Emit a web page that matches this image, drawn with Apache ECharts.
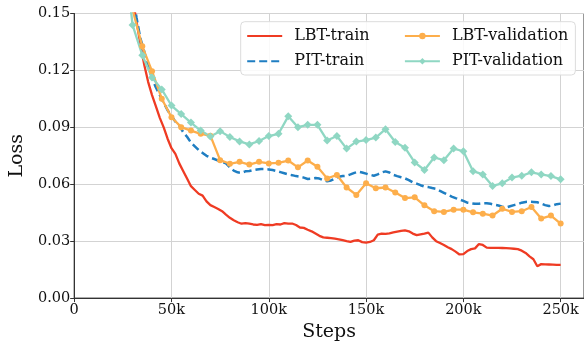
<!DOCTYPE html>
<html>
<head>
<meta charset="utf-8">
<script src="https://cdn.jsdelivr.net/npm/echarts@6/dist/echarts.min.js"></script>
<style>
html,body{margin:0;padding:0;background:#fff;}
#chart{width:584px;height:347px;}
</style>
</head>
<body>
<div id="chart"></div>
<script>
// Training steps (k)
const trainSteps = [30,32,34,36,38,40,42,44,46,48,50,52,54,56,58,60,62,64,66,68,70,72,74,76,78,80,82,84,86,88,90,92,94,96,98,100,102,104,106,108,110,112,114,116,118,120,122,124,126,128,130,132,134,136,138,140,142,144,146,148,150,152,154,156,158,160,162,164,166,168,170,172,174,176,178,180,182,184,186,188,190,192,194,196,198,200,202,204,206,208,210,212,214,216,218,220,222,224,226,228,230,232,234,236,238,240,242,244,246,248,250];
const lbtTrain = [0.158,0.146,0.134,0.123,0.114,0.107,0.101,0.095,0.090,0.084,0.079,0.076,0.071,0.067,0.063,0.059,0.057,0.055,0.054,0.051,0.049,0.048,0.047,0.0458,0.044,0.0423,0.041,0.0400,0.0392,0.0395,0.0392,0.0388,0.0386,0.0390,0.0385,0.0386,0.0385,0.0390,0.0388,0.0395,0.0392,0.0393,0.0385,0.0372,0.0370,0.0360,0.0352,0.0340,0.0328,0.0320,0.0318,0.0316,0.0313,0.0310,0.0305,0.0300,0.0296,0.0303,0.0305,0.0295,0.0292,0.0296,0.0305,0.0335,0.0340,0.0338,0.0341,0.0346,0.0350,0.0354,0.0357,0.0352,0.0340,0.0332,0.0336,0.0340,0.0345,0.0320,0.0300,0.0290,0.0280,0.0268,0.0258,0.0245,0.0230,0.0232,0.0248,0.0258,0.0262,0.0285,0.0280,0.0266,0.0265,0.0265,0.0265,0.0264,0.0263,0.0262,0.0260,0.0258,0.0250,0.0238,0.0220,0.0205,0.0168,0.0179,0.0178,0.0177,0.0176,0.0175,0.0175];
const pitTrain = [0.162,0.148,0.137,0.130,0.122,0.116,0.111,0.107,0.103,0.099,0.096,0.093,0.091,0.0875,0.085,0.082,0.080,0.078,0.0765,0.075,0.074,0.0733,0.0725,0.0718,0.071,0.0690,0.0672,0.0663,0.0660,0.0668,0.0670,0.0675,0.0678,0.0680,0.0680,0.0678,0.0675,0.0670,0.0664,0.0658,0.0652,0.0648,0.0643,0.0640,0.0635,0.0628,0.0630,0.0633,0.0630,0.0622,0.0616,0.0620,0.0630,0.0640,0.0643,0.0645,0.0652,0.0660,0.0666,0.0662,0.0656,0.0650,0.0645,0.0652,0.0662,0.0668,0.0662,0.0650,0.0643,0.0637,0.0631,0.0622,0.0610,0.0603,0.0595,0.0588,0.0585,0.0580,0.0576,0.0565,0.0555,0.0545,0.0535,0.0527,0.0520,0.0512,0.0503,0.0500,0.0497,0.0497,0.0500,0.0500,0.0497,0.0492,0.0488,0.0482,0.0478,0.0484,0.0490,0.0495,0.0503,0.0507,0.0508,0.0507,0.0505,0.0498,0.0490,0.0485,0.0488,0.0495,0.0498];
// Validation steps (k)
const valSteps = [25,30,35,40,45,50,55,60,65,70,75,80,85,90,95,100,105,110,115,120,125,130,135,140,145,150,155,160,165,170,175,180,185,190,195,200,205,210,215,220,225,230,235,240,245,250];
const lbtVal = [0.200,0.152,0.1327,0.1196,0.1051,0.0953,0.0901,0.0883,0.0866,0.0856,0.0727,0.0708,0.0718,0.0704,0.0718,0.0710,0.0713,0.0725,0.0689,0.0725,0.0692,0.0631,0.0649,0.0583,0.0544,0.0605,0.0579,0.0583,0.0557,0.0527,0.0531,0.0489,0.0458,0.0454,0.0466,0.0466,0.0452,0.0445,0.0435,0.0471,0.0454,0.0458,0.0480,0.0419,0.0435,0.0393];
const pitVal = [0.190,0.144,0.128,0.1163,0.110,0.1015,0.097,0.0925,0.0883,0.0852,0.0880,0.0849,0.0826,0.0810,0.0828,0.0854,0.0866,0.0958,0.0901,0.0913,0.0913,0.0831,0.0854,0.0788,0.0825,0.0833,0.0846,0.0890,0.0823,0.0793,0.0715,0.0675,0.0741,0.0727,0.0788,0.0774,0.0669,0.0652,0.0591,0.0605,0.0635,0.0645,0.0663,0.0652,0.0643,0.0626];
const yTicks = [0, 0.03, 0.06, 0.09, 0.12, 0.15];

const FONT = 'DejaVu Serif';
function pairs(xs, ys){ return xs.map((x,i)=>[x, ys[i]]); }
const hiddenSym = {opacity:0, color:'rgba(0,0,0,0)', borderWidth:0};

const chart = echarts.init(document.getElementById('chart'), null, {renderer:'canvas'});
chart.setOption({
  animation:false,
  backgroundColor:'#fff',
  grid:{left:73.3, top:13.5, width:512.9, height:287.5, show:true, borderColor:'#333', borderWidth:1, backgroundColor:'transparent'},
  xAxis:{
    type:'value', min:0, max:262, interval:50,
    name:'Steps', nameLocation:'middle', nameGap:22,
    nameTextStyle:{fontFamily:FONT, fontSize:19, color:'#111'},
    axisLine:{show:true, lineStyle:{color:'#333', width:1}},
    axisTick:{show:true, length:4, lineStyle:{color:'#333'}},
    axisLabel:{fontFamily:FONT, fontSize:14.5, color:'#111', margin:5, showMaxLabel:false,
      formatter:v=> v===0 ? '0' : v+'k'},
    splitLine:{show:true, lineStyle:{color:'#d3d3d3', width:1}}
  },
  yAxis:{
    type:'value', min:yTicks[0], max:yTicks[yTicks.length-1], interval:0.03,
    name:'Loss', nameLocation:'middle', nameGap:45,
    nameTextStyle:{fontFamily:FONT, fontSize:19, color:'#111'},
    axisLine:{show:true, lineStyle:{color:'#333', width:1}},
    axisTick:{show:true, length:4, lineStyle:{color:'#333'}},
    axisLabel:{fontFamily:FONT, fontSize:14.5, color:'#111', margin:4, formatter:v=>v.toFixed(2)},
    splitLine:{show:true, lineStyle:{color:'#d3d3d3', width:1}}
  },
  legend:{
    orient:'vertical', left:240.7, top:21.7, height:44,
    data:[
      {name:'LBT-train', itemStyle:hiddenSym},
      {name:'PIT-train', itemStyle:hiddenSym},
      {name:'LBT-validation'},
      {name:'PIT-validation'}
    ],
    itemWidth:35, itemHeight:8, itemGap:9.3,
    padding:[6.3,7,5.7,5.5],
    backgroundColor:'rgba(255,255,255,0.85)', borderColor:'#dcdcdc', borderWidth:1, borderRadius:4,
    formatter:function(name){ return name.indexOf('validation')>=0 ? '{b|'+name+'}' : '{a|'+name+'}'; },
    textStyle:{fontFamily:FONT, fontSize:16, color:'#111', lineHeight:16,
      rich:{
        a:{fontFamily:FONT, fontSize:16, color:'#111', width:100.4, lineHeight:16, padding:[0,0,0,7]},
        b:{fontFamily:FONT, fontSize:16, color:'#111', lineHeight:16, padding:[0,0,0,7]}
      }}
  },
  series:[
    {name:'LBT-train', type:'line', data:pairs(trainSteps, lbtTrain), symbol:'none', clip:true,
      lineStyle:{color:'#ef3b23', width:2.3}, itemStyle:{color:'#ef3b23'}},
    {name:'PIT-train', type:'line', data:pairs(trainSteps, pitTrain), symbol:'none', clip:true,
      lineStyle:{color:'#1f7ec2', width:2.5, type:[8,4]}, itemStyle:{color:'#1f7ec2'}},
    {name:'LBT-validation', type:'line', data:pairs(valSteps, lbtVal), symbol:'circle', symbolSize:6, clip:true,
      lineStyle:{color:'#fdae4b', width:2.3}, itemStyle:{color:'#fdae4b'}},
    {name:'PIT-validation', type:'line', data:pairs(valSteps, pitVal), symbol:'diamond', symbolSize:8, clip:true,
      lineStyle:{color:'#8fd7c3', width:2.3}, itemStyle:{color:'#8fd7c3'}}
  ]
});
</script>
</body>
</html>
